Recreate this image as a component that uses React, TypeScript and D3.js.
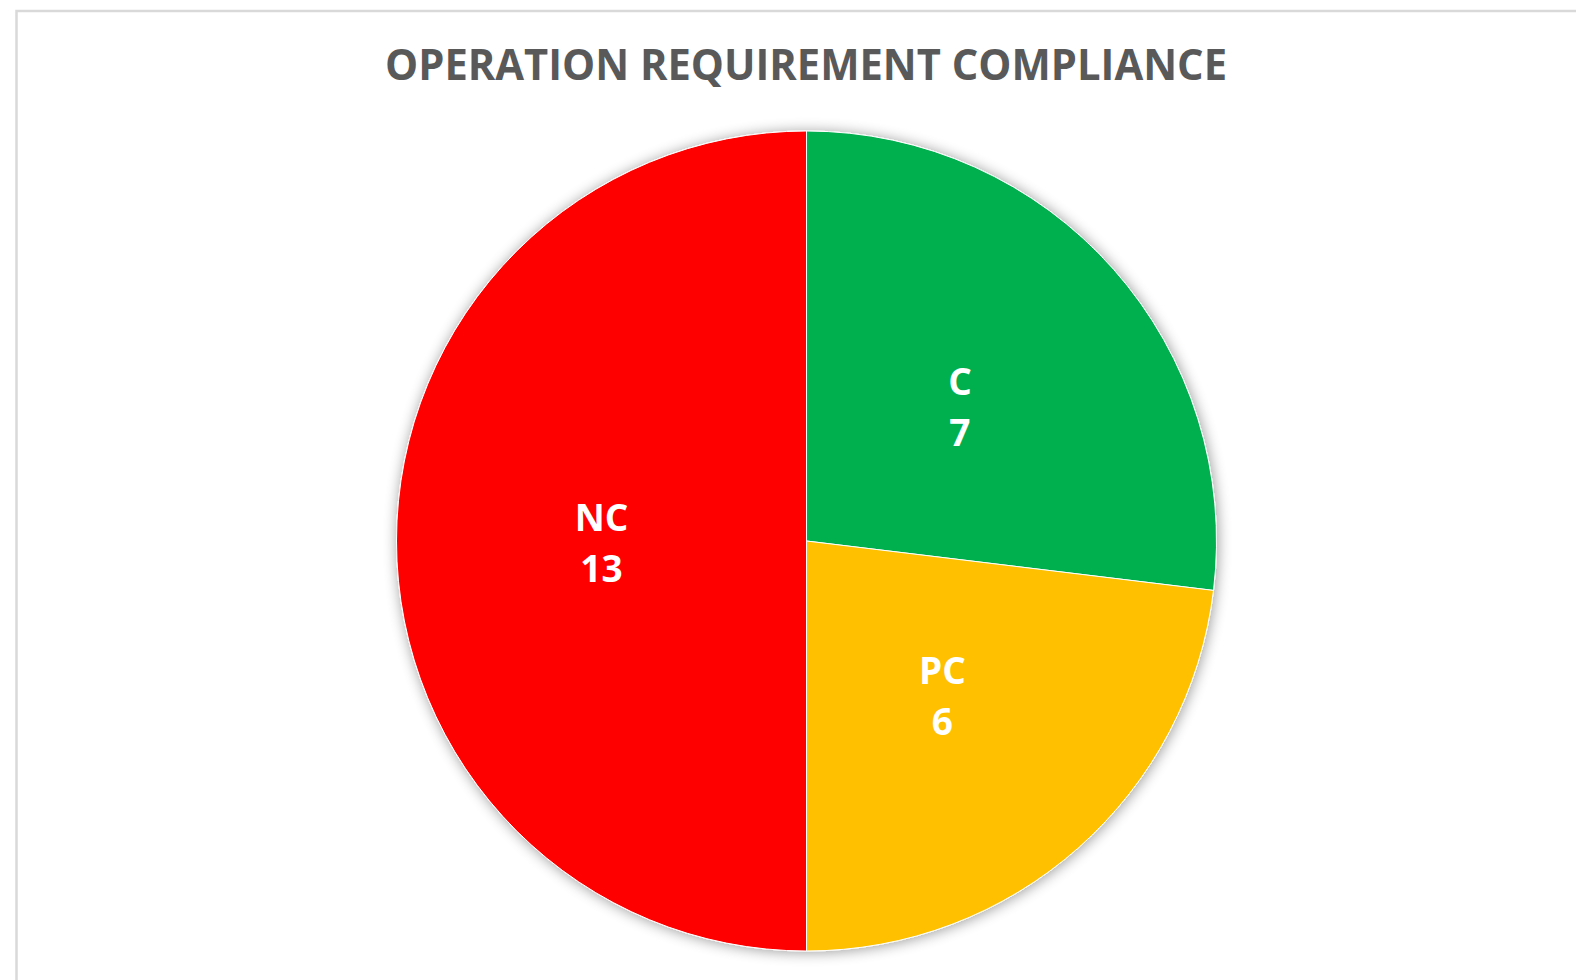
import React, { useEffect, useRef } from "react";
import * as d3 from "d3";

const categories = ["C", "PC", "NC"];
const values = [7, 6, 13];
const colors = ["#00B050", "#FFC000", "#FF0000"];
const title = "OPERATION REQUIREMENT COMPLIANCE";

const W = 1576;
const H = 980;

const App = () => {
  const ref = useRef<SVGSVGElement>(null);

  useEffect(() => {
    const svg = d3.select(ref.current);
    svg.selectAll("*").remove();

    // soft drop shadow like the office chart
    const defs = svg.append("defs");
    const f = defs
      .append("filter")
      .attr("id", "shadow")
      .attr("x", "-10%")
      .attr("y", "-10%")
      .attr("width", "120%")
      .attr("height", "120%");
    f.append("feGaussianBlur").attr("in", "SourceAlpha").attr("stdDeviation", 7);
    f.append("feOffset").attr("dx", 1).attr("dy", 1).attr("result", "blur");
    f.append("feComponentTransfer")
      .append("feFuncA")
      .attr("type", "linear")
      .attr("slope", 0.4);
    const merge = f.append("feMerge");
    merge.append("feMergeNode");
    merge.append("feMergeNode").attr("in", "SourceGraphic");

    svg
      .append("rect")
      .attr("x", 16.5)
      .attr("y", 11)
      .attr("width", W)
      .attr("height", H)
      .attr("fill", "#fff")
      .attr("stroke", "#d9d9d9")
      .attr("stroke-width", 2.5);

    svg
      .append("text")
      .attr("x", 806)
      .attr("y", 80)
      .attr("text-anchor", "middle")
      .attr("font-family", "'Open Sans', sans-serif")
      .attr("font-weight", 700)
      .attr("font-size", 43)
      .attr("fill", "#595959")
      .attr("textLength", 842)
      .attr("lengthAdjust", "spacingAndGlyphs")
      .text(title);

    const cx = 806.5;
    const cy = 541;
    const r = 410;

    const pie = d3
      .pie<number>()
      .sort(null)
      .value((d) => d);
    const arcs = pie(values);
    const arc = d3.arc<d3.PieArcDatum<number>>().innerRadius(0).outerRadius(r);

    const g = svg.append("g").attr("transform", `translate(${cx},${cy})`);
    g.append("g")
      .attr("filter", "url(#shadow)")
      .selectAll("path")
      .data(arcs)
      .join("path")
      .attr("d", arc)
      .attr("fill", (d, i) => colors[i])
      .attr("stroke", "#fff")
      .attr("stroke-width", 1);

    const labels = g
      .selectAll("text.lbl")
      .data(arcs)
      .join("text")
      .attr("class", "lbl")
      .attr("text-anchor", "middle")
      .attr("font-family", "'Open Sans', sans-serif")
      .attr("font-weight", 700)
      .attr("font-size", 37)
      .attr("fill", "#fff")
      .attr("transform", (d) => {
        const [x, y] = arc.centroid(d);
        return `translate(${x},${y})`;
      });
    labels
      .append("tspan")
      .attr("x", 0)
      .attr("y", -10)
      .text((d, i) => categories[i]);
    labels
      .append("tspan")
      .attr("x", 0)
      .attr("y", 41)
      .text((d) => d.data);
  }, []);

  return (
    <svg
      ref={ref}
      width={W}
      height={H}
      style={{ position: "absolute", left: 0, top: 0 }}
    />
  );
};

export default App;
